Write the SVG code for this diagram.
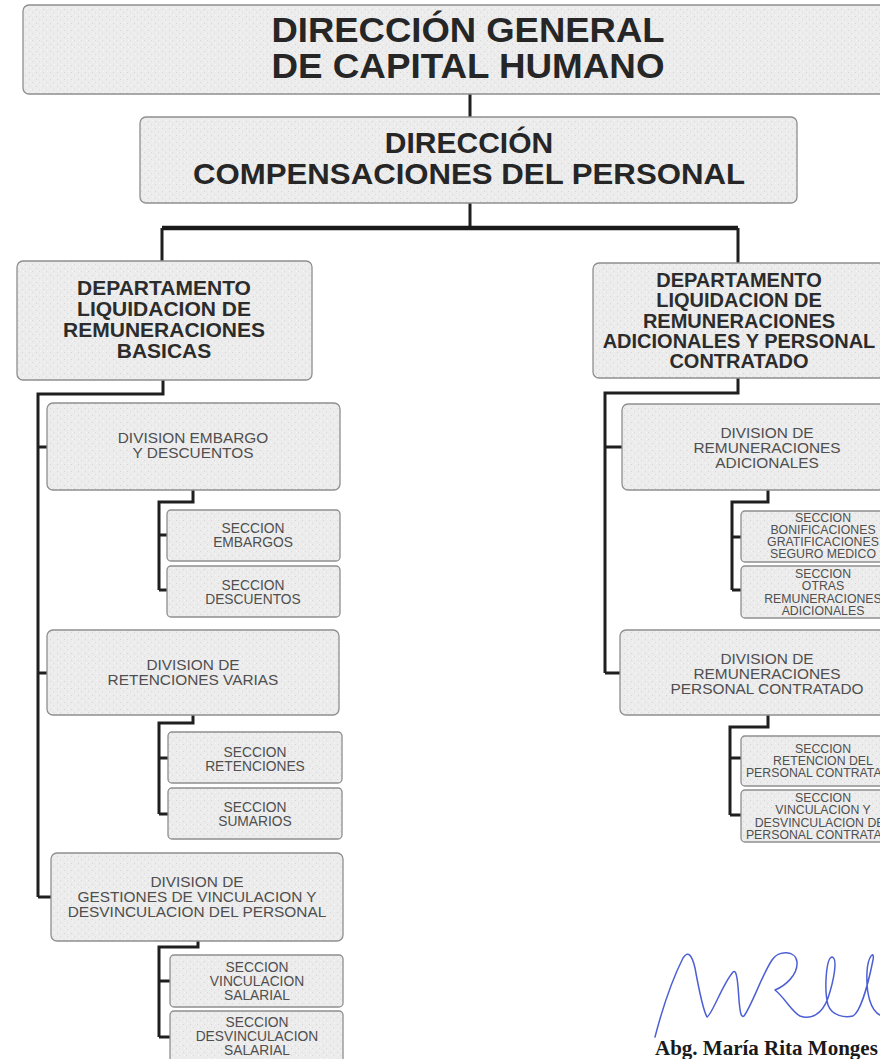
<svg xmlns="http://www.w3.org/2000/svg" width="880" height="1059" viewBox="0 0 880 1059">
<defs>
<pattern id="tex" width="7" height="7" patternUnits="userSpaceOnUse">
<rect width="7" height="7" fill="#ececec"/>
<rect x="1" y="2" width="1" height="1" fill="#d6d6d6"/>
<rect x="4" y="5" width="1" height="1" fill="#dadada"/>
<rect x="5" y="1" width="1" height="1" fill="#f8f8f8"/>
<rect x="2" y="5" width="1" height="1" fill="#f7f7f7"/>
</pattern>
<style>
.box{fill:url(#tex);stroke:#8e8e8e;stroke-width:1.3}
.tt{font-family:"Liberation Sans",Arial,sans-serif;font-weight:bold;fill:#262626;text-anchor:middle}
.dep{font-family:"Liberation Sans",Arial,sans-serif;font-weight:bold;fill:#2c2c2c;text-anchor:middle}
.dv{font-family:"Liberation Sans",Arial,sans-serif;font-size:15.4px;fill:#4f4f4f;text-anchor:middle}
.sc{font-family:"Liberation Sans",Arial,sans-serif;font-size:13.8px;fill:#4f4f4f;text-anchor:middle}
.sr{font-family:"Liberation Sans",Arial,sans-serif;font-size:12.3px;fill:#4f4f4f;text-anchor:middle}
.conn{fill:none;stroke:#1f1f1f;stroke-width:3}
.bar{fill:none;stroke:#1a1a1a;stroke-width:4.5}
.sig{fill:none;stroke:#4d5fd4;stroke-width:1.5;stroke-linecap:round;stroke-linejoin:round}
</style>
</defs>
<rect width="880" height="1059" fill="#ffffff"/>

<g id="connectors">
<path class="conn" d="M470 94 V117 M470 203 V228"/>
<path class="bar" d="M162 228 H738"/>
<path class="conn" d="M162 228 V261 M738 228 V263"/>
<path class="conn" d="M163 380 V394 H38 V897 M38 447 H47 M38 673 H47 M38 897 H51"/>
<path class="conn" d="M193 490 V502 H159 V590 M159 535 H167 M159 590 H167"/>
<path class="conn" d="M193 715 V723 H159 V814 M159 758 H168 M159 814 H168"/>
<path class="conn" d="M198 941 V947 H159 V1037 M159 981 H170 M159 1037 H170"/>
<path class="conn" d="M738 378 V393 H605 V673 M605 447 H622 M605 673 H620"/>
<path class="conn" d="M768 490 V502 H732 V590 M732 537 H741 M732 590 H741"/>
<path class="conn" d="M768 715 V727 H730 V815 M730 758 H741 M730 815 H741"/>
</g>

<g id="n-direccion-general">
<rect class="box" x="23" y="5" width="890" height="89" rx="6"/>
<text class="tt" x="468" y="42" font-size="35" textLength="393" lengthAdjust="spacingAndGlyphs">DIRECCIÓN GENERAL</text>
<text class="tt" x="468" y="78" font-size="35" textLength="393" lengthAdjust="spacingAndGlyphs">DE CAPITAL HUMANO</text>
</g>

<g id="n-direccion-compensaciones">
<rect class="box" x="140" y="117" width="657" height="86" rx="6"/>
<text class="tt" x="469" y="153" font-size="30">DIRECCIÓN</text>
<text class="tt" x="469" y="184" font-size="30" textLength="552" lengthAdjust="spacingAndGlyphs">COMPENSACIONES DEL PERSONAL</text>
</g>

<g id="n-depto-basicas">
<rect class="box" x="17" y="261" width="295" height="119" rx="6"/>
<text class="dep" x="164" y="295" font-size="21">DEPARTAMENTO</text>
<text class="dep" x="164" y="316" font-size="21">LIQUIDACION DE</text>
<text class="dep" x="164" y="337" font-size="21">REMUNERACIONES</text>
<text class="dep" x="164" y="358" font-size="21">BASICAS</text>
</g>

<g id="n-depto-adicionales">
<rect class="box" x="593" y="263" width="295" height="115" rx="6"/>
<text class="dep" x="739" y="287" font-size="20">DEPARTAMENTO</text>
<text class="dep" x="739" y="307" font-size="20">LIQUIDACION DE</text>
<text class="dep" x="739" y="328" font-size="20">REMUNERACIONES</text>
<text class="dep" x="739" y="348" font-size="20">ADICIONALES Y PERSONAL</text>
<text class="dep" x="739" y="368" font-size="20">CONTRATADO</text>
</g>

<g id="n-div-embargo">
<rect class="box" x="47" y="403" width="293" height="87" rx="6"/>
<text class="dv" x="193" y="443">DIVISION EMBARGO</text>
<text class="dv" x="193" y="458">Y DESCUENTOS</text>
</g>
<g id="n-sec-embargos">
<rect class="box" x="167" y="510" width="173" height="51" rx="4"/>
<text class="sc" x="253" y="533">SECCION</text>
<text class="sc" x="253" y="547">EMBARGOS</text>
</g>
<g id="n-sec-descuentos">
<rect class="box" x="167" y="566" width="173" height="51" rx="4"/>
<text class="sc" x="253" y="590">SECCION</text>
<text class="sc" x="253" y="604">DESCUENTOS</text>
</g>

<g id="n-div-retenciones">
<rect class="box" x="47" y="630" width="292" height="85" rx="6"/>
<text class="dv" x="193" y="670">DIVISION DE</text>
<text class="dv" x="193" y="685">RETENCIONES VARIAS</text>
</g>
<g id="n-sec-retenciones">
<rect class="box" x="168" y="732" width="174" height="51" rx="4"/>
<text class="sc" x="255" y="757">SECCION</text>
<text class="sc" x="255" y="771">RETENCIONES</text>
</g>
<g id="n-sec-sumarios">
<rect class="box" x="168" y="788" width="174" height="51" rx="4"/>
<text class="sc" x="255" y="812">SECCION</text>
<text class="sc" x="255" y="826">SUMARIOS</text>
</g>

<g id="n-div-gestiones">
<rect class="box" x="51" y="853" width="292" height="88" rx="6"/>
<text class="dv" x="197" y="887">DIVISION DE</text>
<text class="dv" x="197" y="902">GESTIONES DE VINCULACION Y</text>
<text class="dv" x="197" y="917">DESVINCULACION DEL PERSONAL</text>
</g>
<g id="n-sec-vinculacion">
<rect class="box" x="170" y="955" width="173" height="52" rx="4"/>
<text class="sc" x="257" y="972">SECCION</text>
<text class="sc" x="257" y="986">VINCULACION</text>
<text class="sc" x="257" y="1000">SALARIAL</text>
</g>
<g id="n-sec-desvinculacion">
<rect class="box" x="170" y="1011" width="173" height="60" rx="4"/>
<text class="sc" x="257" y="1027">SECCION</text>
<text class="sc" x="257" y="1041">DESVINCULACION</text>
<text class="sc" x="257" y="1055">SALARIAL</text>
</g>

<g id="n-div-rem-adicionales">
<rect class="box" x="622" y="404" width="290" height="86" rx="6"/>
<text class="dv" x="767" y="438">DIVISION DE</text>
<text class="dv" x="767" y="453">REMUNERACIONES</text>
<text class="dv" x="767" y="468">ADICIONALES</text>
</g>
<g id="n-sec-bonificaciones">
<rect class="box" x="741" y="511" width="170" height="51" rx="4"/>
<text class="sr" x="823" y="522">SECCION</text>
<text class="sr" x="823" y="534">BONIFICACIONES</text>
<text class="sr" x="823" y="546">GRATIFICACIONES</text>
<text class="sr" x="823" y="558">SEGURO MEDICO</text>
</g>
<g id="n-sec-otras">
<rect class="box" x="741" y="566" width="170" height="52" rx="4"/>
<text class="sr" x="823" y="578">SECCION</text>
<text class="sr" x="823" y="590">OTRAS</text>
<text class="sr" x="823" y="603">REMUNERACIONES</text>
<text class="sr" x="823" y="615">ADICIONALES</text>
</g>

<g id="n-div-rem-contratado">
<rect class="box" x="620" y="630" width="292" height="85" rx="6"/>
<text class="dv" x="767" y="664">DIVISION DE</text>
<text class="dv" x="767" y="679">REMUNERACIONES</text>
<text class="dv" x="767" y="694">PERSONAL CONTRATADO</text>
</g>
<g id="n-sec-retencion-contratado">
<rect class="box" x="741" y="736" width="170" height="50" rx="4"/>
<text class="sr" x="823" y="753">SECCION</text>
<text class="sr" x="823" y="765">RETENCION DEL</text>
<text class="sr" x="823" y="777">PERSONAL CONTRATADO</text>
</g>
<g id="n-sec-vinculacion-contratado">
<rect class="box" x="741" y="790" width="170" height="52" rx="4"/>
<text class="sr" x="823" y="802">SECCION</text>
<text class="sr" x="823" y="814">VINCULACION Y</text>
<text class="sr" x="823" y="827">DESVINCULACION DEL</text>
<text class="sr" x="823" y="839">PERSONAL CONTRATADO</text>
</g>

<g id="signature">
<path class="sig" d="M655 1037 C662 1010 672 980 683 958 C688 950 692 955 695 968 C699 990 703 1010 707 1017 C712 1015 722 985 733 972 C737 968 738 985 739 1000 C740 1012 741 1018 744 1016 C752 1005 762 975 772 960 C778 950 796 950 797 962 C798 975 785 986 775 990 C785 998 792 1012 800 1016 C810 1020 822 1015 828 998 C834 980 838 958 832 957 C826 958 824 990 828 1005 C832 1016 845 1018 853 1016 C862 1010 870 975 873 960 C875 950 868 955 867 972 C866 992 870 1012 882 1016"/>
<text x="655" y="1055" font-family="'Liberation Serif','Times New Roman',serif" font-weight="bold" font-size="21" fill="#1a1a1a">Abg. María Rita Monges</text>
</g>
</svg>
